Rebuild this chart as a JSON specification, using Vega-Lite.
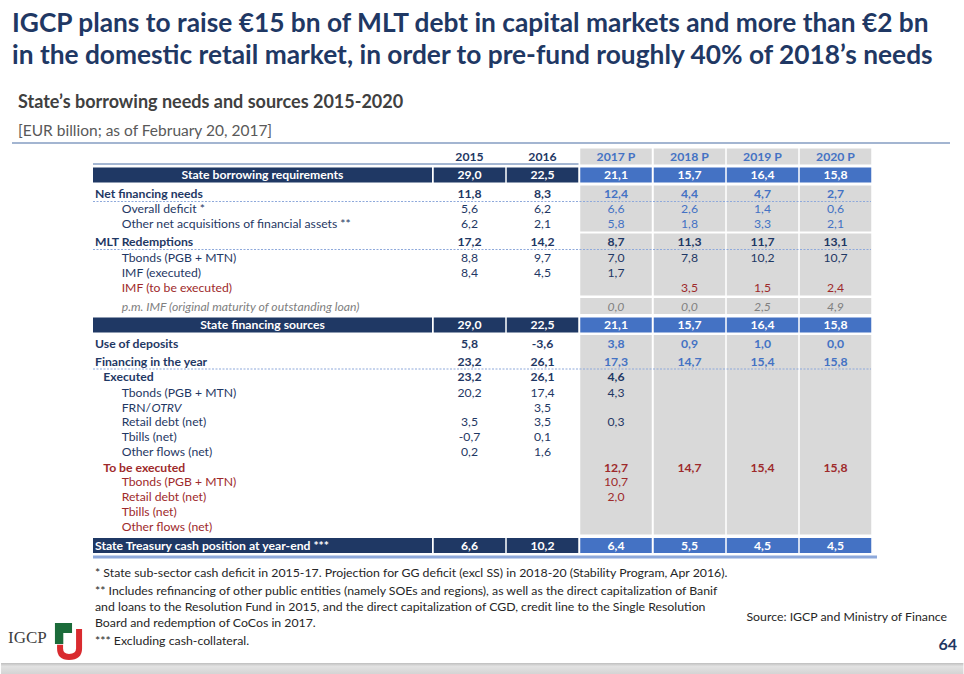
{
  "$schema": "https://vega.github.io/schema/vega-lite/v6.json",
  "width": 964,
  "height": 674,
  "autosize": {"type": "none"},
  "padding": 0,
  "background": "white",
  "config": {
    "view": {"stroke": null},
    "axis": {"disable": true},
    "locale": {"number": {"decimal": ",", "thousands": ".", "grouping": [3], "currency": ["", " €"], "minus": "-"}},
    "text": {"font": "Lato", "fontSize": 12.2, "baseline": "middle"}
  },
  "datasets": {
    "cols": [
      {"year": "2015", "c": 1, "proj": false},
      {"year": "2016", "c": 2, "proj": false},
      {"year": "2017 P", "c": 3, "proj": true},
      {"year": "2018 P", "c": 4, "proj": true},
      {"year": "2019 P", "c": 5, "proj": true},
      {"year": "2020 P", "c": 6, "proj": true}
    ],
    "tbl": [
      {"r": 0, "section": "header", "status": "header", "level": 0, "label": ""},
      {"r": 1, "section": "total", "status": "total", "level": 0, "label": "State borrowing requirements", "2015": 29.0, "2016": 22.5, "2017 P": 21.1, "2018 P": 15.7, "2019 P": 16.4, "2020 P": 15.8},
      {"r": 2, "section": "needs", "status": "estimate", "level": 0, "label": "Net financing needs", "2015": 11.8, "2016": 8.3, "2017 P": 12.4, "2018 P": 4.4, "2019 P": 4.7, "2020 P": 2.7},
      {"r": 3, "section": "needs", "status": "estimate", "level": 2, "label": "Overall deficit *", "2015": 5.6, "2016": 6.2, "2017 P": 6.6, "2018 P": 2.6, "2019 P": 1.4, "2020 P": 0.6},
      {"r": 4, "section": "needs", "status": "estimate", "level": 2, "label": "Other net acquisitions of financial assets **", "2015": 6.2, "2016": 2.1, "2017 P": 5.8, "2018 P": 1.8, "2019 P": 3.3, "2020 P": 2.1},
      {"r": 5, "section": "redemptions", "status": "known", "level": 0, "label": "MLT Redemptions", "2015": 17.2, "2016": 14.2, "2017 P": 8.7, "2018 P": 11.3, "2019 P": 11.7, "2020 P": 13.1},
      {"r": 6, "section": "redemptions", "status": "known", "level": 2, "label": "Tbonds (PGB + MTN)", "2015": 8.8, "2016": 9.7, "2017 P": 7.0, "2018 P": 7.8, "2019 P": 10.2, "2020 P": 10.7},
      {"r": 7, "section": "redemptions", "status": "known", "level": 2, "label": "IMF (executed)", "2015": 8.4, "2016": 4.5, "2017 P": 1.7},
      {"r": 8, "section": "redemptions", "status": "pending", "level": 2, "label": "IMF (to be executed)", "2018 P": 3.5, "2019 P": 1.5, "2020 P": 2.4},
      {"r": 9, "section": "memo", "status": "memo", "level": 2, "label": "p.m. IMF (original maturity of outstanding loan)", "2017 P": 0.0, "2018 P": 0.0, "2019 P": 2.5, "2020 P": 4.9},
      {"r": 10, "section": "total", "status": "total", "level": 0, "label": "State financing sources", "2015": 29.0, "2016": 22.5, "2017 P": 21.1, "2018 P": 15.7, "2019 P": 16.4, "2020 P": 15.8},
      {"r": 11, "section": "sources", "status": "estimate", "level": 0, "label": "Use of deposits", "2015": 5.8, "2016": -3.6, "2017 P": 3.8, "2018 P": 0.9, "2019 P": 1.0, "2020 P": 0.0},
      {"r": 12, "section": "sources", "status": "estimate", "level": 0, "label": "Financing in the year", "2015": 23.2, "2016": 26.1, "2017 P": 17.3, "2018 P": 14.7, "2019 P": 15.4, "2020 P": 15.8},
      {"r": 13, "section": "sources", "status": "known", "level": 1, "label": "Executed", "2015": 23.2, "2016": 26.1, "2017 P": 4.6},
      {"r": 14, "section": "sources", "status": "known", "level": 2, "label": "Tbonds (PGB + MTN)", "2015": 20.2, "2016": 17.4, "2017 P": 4.3},
      {"r": 15, "section": "sources", "status": "known", "level": 2, "label": "FRN/", "labelEm": "OTRV", "2016": 3.5},
      {"r": 16, "section": "sources", "status": "known", "level": 2, "label": "Retail debt (net)", "2015": 3.5, "2016": 3.5, "2017 P": 0.3},
      {"r": 17, "section": "sources", "status": "known", "level": 2, "label": "Tbills (net)", "2015": -0.7, "2016": 0.1},
      {"r": 18, "section": "sources", "status": "known", "level": 2, "label": "Other flows (net)", "2015": 0.2, "2016": 1.6},
      {"r": 19, "section": "sources", "status": "pending", "level": 1, "label": "To be executed", "2017 P": 12.7, "2018 P": 14.7, "2019 P": 15.4, "2020 P": 15.8},
      {"r": 20, "section": "sources", "status": "pending", "level": 2, "label": "Tbonds (PGB + MTN)", "2017 P": 10.7},
      {"r": 21, "section": "sources", "status": "pending", "level": 2, "label": "Retail debt (net)", "2017 P": 2.0},
      {"r": 22, "section": "sources", "status": "pending", "level": 2, "label": "Tbills (net)"},
      {"r": 23, "section": "sources", "status": "pending", "level": 2, "label": "Other flows (net)"},
      {"r": 24, "section": "balance", "status": "total", "level": 0, "label": "State Treasury cash position at year-end ***", "2015": 6.6, "2016": 10.2, "2017 P": 6.4, "2018 P": 5.5, "2019 P": 4.5, "2020 P": 4.5}
    ],
    "notes": [
      {"r": -6, "kind": "title", "text": "IGCP plans to raise €15 bn of MLT debt in capital markets and more than €2 bn"},
      {"r": -5, "kind": "title", "text": "in the domestic retail market, in order to pre-fund roughly 40% of 2018’s needs"},
      {"r": -4, "kind": "subtitle", "text": "State’s borrowing needs and sources 2015-2020"},
      {"r": -3, "kind": "unit", "text": "[EUR billion; as of February 20, 2017]"},
      {"r": 26, "kind": "note", "text": "* State sub-sector cash deficit in 2015-17. Projection for GG deficit (excl SS) in 2018-20 (Stability Program, Apr 2016)."},
      {"r": 27, "kind": "note", "text": "** Includes refinancing of other public entities (namely SOEs and regions), as well as the direct capitalization of Banif"},
      {"r": 28, "kind": "note", "text": "and loans to the Resolution Fund in 2015, and the direct capitalization of CGD, credit line to the Single Resolution"},
      {"r": 29, "kind": "note", "text": "Board and redemption of CoCos in 2017."},
      {"r": 30, "kind": "note", "text": "*** Excluding cash-collateral."},
      {"r": 29, "kind": "source", "text": "Source: IGCP and Ministry of Finance"},
      {"r": 30, "kind": "page", "text": "64"},
      {"r": 30, "kind": "logo", "text": "IGCP"}
    ]
  },
  "encoding": {
    "y": {"field": "r", "type": "quantitative", "axis": null,
      "scale": {"type": "linear", "zero": false, "nice": false,
        "domain": [-7, -6, -5, -4, -3, -2, 0, 1, 2, 3, 4, 5, 6, 7, 8, 9, 10, 11, 12, 13, 14, 15, 16, 17, 18, 19, 20, 21, 22, 23, 24, 25, 26, 27, 28, 29, 30, 31, 32],
        "range": [0, 24, 56, 103, 131, 143, 157, 175, 194, 209, 224, 242, 257.5, 272.5, 288, 306.5, 325, 343.5, 361.5, 377, 392.5, 407.5, 422, 437, 451.5, 467.5, 482, 497, 512, 527, 545.5, 557, 573, 591, 607, 623, 641, 663, 674]}}
  },
  "layer": [
    {
      "data": {"name": "notes"},
      "transform": [{"filter": "datum.kind === 'page'"}],
      "mark": {"type": "bar", "color": {"gradient": "linear", "x1": 0, "y1": 0, "x2": 0, "y2": 1, "stops": [{"offset": 0, "color": "#BEBEBE"}, {"offset": 0.3, "color": "#E2E2E2"}, {"offset": 1, "color": "#D4D4D4"}]}},
      "encoding": {
        "x": {"datum": -1.5, "type": "quantitative", "axis": null, "scale": {"type": "linear", "zero": false, "nice": false, "domain": [-1.5, -1, -0.5, 0, 1, 2, 3, 4, 5, 6, 6.5, 7, 7.5], "range": [0, 12, 95, 262.5, 469.5, 542.5, 616, 689.5, 762.5, 835.5, 871, 957, 964]}},
        "x2": {"datum": 7.5},
        "y": {"datum": 31, "type": "quantitative", "axis": null},
        "y2": {"datum": 32}
      }
    },
    {
      "data": {"name": "notes"},
      "transform": [{"filter": "datum.kind === 'unit'"}],
      "mark": {"type": "rule", "color": "#A3B5D1", "strokeWidth": 2, "x2Offset": -7},
      "encoding": {
        "x": {"datum": -1, "type": "quantitative", "axis": null},
        "x2": {"datum": 7},
        "y": {"datum": -2, "type": "quantitative", "axis": null},
        "y2": {"datum": -2}
      }
    },
    {
      "data": {"name": "tbl"},
      "transform": [
        {"fold": ["2015", "2016", "2017 P", "2018 P", "2019 P", "2020 P"], "as": ["year", "value"]},
        {"lookup": "year", "from": {"data": {"name": "cols"}, "key": "year", "fields": ["c", "proj"]}},
        {"filter": "datum.proj && datum.section !== 'total' && datum.section !== 'balance'"},
        {"aggregate": [{"op": "min", "field": "r", "as": "r"}, {"op": "max", "field": "r", "as": "rmax"}], "groupby": ["section", "c"]}
      ],
      "mark": {"type": "bar", "color": "#D9D9D9", "width": 71.5, "yOffset": -8.5, "y2Offset": 7.5},
      "encoding": {
        "x": {"field": "c", "type": "quantitative", "axis": null, "scale": {"type": "linear", "zero": false, "nice": false, "domain": [-1.5, -1, -0.5, 0, 1, 2, 3, 4, 5, 6, 6.5, 7, 7.5], "range": [0, 12, 95, 262.5, 469.5, 542.5, 616, 689.5, 762.5, 835.5, 871, 957, 964]}},
        "y": {"field": "r", "type": "quantitative", "stack": null, "axis": null},
        "y2": {"field": "rmax"}
      }
    },
    {
      "data": {"name": "tbl"},
      "transform": [
        {"fold": ["2015", "2016", "2017 P", "2018 P", "2019 P", "2020 P"], "as": ["year", "value"]},
        {"lookup": "year", "from": {"data": {"name": "cols"}, "key": "year", "fields": ["c", "proj"]}},
        {"filter": "datum.section === 'total' || datum.section === 'balance'"}
      ],
      "mark": {"type": "bar", "width": 71.5, "yOffset": -7.5, "y2Offset": 7.5},
      "encoding": {
        "x": {"field": "c", "type": "quantitative", "axis": null},
        "y": {"field": "r", "type": "quantitative", "stack": null, "axis": null},
        "y2": {"field": "r"},
        "color": {"condition": {"test": "datum.proj", "value": "#4472C4"}, "value": "#1F3864"}
      }
    },
    {
      "data": {"name": "tbl"},
      "transform": [{"filter": "datum.section === 'total' || datum.section === 'balance'"}],
      "mark": {"type": "bar", "width": 339, "yOffset": -7.5, "y2Offset": 7.5, "color": "#1F3864"},
      "encoding": {
        "x": {"datum": 0, "type": "quantitative", "axis": null},
        "y": {"field": "r", "type": "quantitative", "stack": null, "axis": null},
        "y2": {"field": "r"}
      }
    },
    {
      "data": {"name": "tbl"},
      "transform": [{"filter": "datum.section === 'header'"}],
      "mark": {"type": "rule", "color": "#4A6FA5", "strokeWidth": 1, "xOffset": -2, "x2Offset": 36, "yOffset": 7, "y2Offset": 7},
      "encoding": {
        "x": {"datum": -0.5, "type": "quantitative", "axis": null},
        "x2": {"datum": 2},
        "y2": {"field": "r"}
      }
    },
    {
      "data": {"name": "tbl"},
      "transform": [
        {"window": [{"op": "lead", "field": "level", "as": "nextLevel"}], "sort": [{"field": "r"}]},
        {"filter": "datum.level === 0 && datum.nextLevel > 0 && datum.section !== 'header'"}
      ],
      "mark": {"type": "rule", "color": "#8EA9DB", "strokeWidth": 1, "strokeDash": [2, 1.5], "xOffset": -2, "yOffset": 7.5, "y2Offset": 7.5},
      "encoding": {
        "x": {"datum": -0.5, "type": "quantitative", "axis": null},
        "x2": {"datum": 6.5},
        "y2": {"field": "r"}
      }
    },
    {
      "data": {"name": "tbl"},
      "transform": [{"filter": "datum.section === 'balance'"}],
      "mark": {"type": "rule", "color": "#8EA9DB", "strokeWidth": 3, "xOffset": -2, "x2Offset": 6},
      "encoding": {
        "x": {"datum": -0.5, "type": "quantitative", "axis": null},
        "x2": {"datum": 6.5},
        "y": {"datum": 25, "type": "quantitative", "axis": null},
        "y2": {"datum": 25}
      }
    },
    {
      "data": {"name": "tbl"},
      "transform": [
        {"fold": ["2015", "2016", "2017 P", "2018 P", "2019 P", "2020 P"], "as": ["year", "value"]},
        {"lookup": "year", "from": {"data": {"name": "cols"}, "key": "year", "fields": ["c", "proj"]}},
        {"filter": "datum.section === 'header'"}
      ],
      "mark": {"type": "text", "fontWeight": "bold", "align": "center"},
      "encoding": {
        "x": {"field": "c", "type": "quantitative", "axis": null},
        "text": {"field": "year"},
        "color": {"condition": {"test": "datum.proj", "value": "#4472C4"}, "value": "#1F3864"}
      }
    },
    {
      "data": {"name": "tbl"},
      "transform": [
        {"fold": ["2015", "2016", "2017 P", "2018 P", "2019 P", "2020 P"], "as": ["year", "value"]},
        {"lookup": "year", "from": {"data": {"name": "cols"}, "key": "year", "fields": ["c", "proj"]}},
        {"filter": "isValid(datum.value) && (datum.section === 'total' || datum.section === 'balance')"}
      ],
      "mark": {"type": "text", "fontWeight": "bold", "align": "center", "color": "white"},
      "encoding": {
        "x": {"field": "c", "type": "quantitative", "axis": null},
        "text": {"field": "value", "type": "quantitative", "format": ".1f"}
      }
    },
    {
      "data": {"name": "tbl"},
      "transform": [
        {"fold": ["2015", "2016", "2017 P", "2018 P", "2019 P", "2020 P"], "as": ["year", "value"]},
        {"lookup": "year", "from": {"data": {"name": "cols"}, "key": "year", "fields": ["c", "proj"]}},
        {"filter": "isValid(datum.value) && datum.level <= 1 && datum.section !== 'total' && datum.section !== 'balance' && datum.section !== 'header'"}
      ],
      "mark": {"type": "text", "fontWeight": "bold", "align": "center"},
      "encoding": {
        "x": {"field": "c", "type": "quantitative", "axis": null},
        "text": {"field": "value", "type": "quantitative", "format": ".1f"},
        "color": {"condition": [{"test": "!datum.proj", "value": "#1F3864"}, {"test": "datum.status === 'estimate'", "value": "#4472C4"}, {"test": "datum.status === 'pending'", "value": "#9E2A2B"}], "value": "#1F3864"}
      }
    },
    {
      "data": {"name": "tbl"},
      "transform": [
        {"fold": ["2015", "2016", "2017 P", "2018 P", "2019 P", "2020 P"], "as": ["year", "value"]},
        {"lookup": "year", "from": {"data": {"name": "cols"}, "key": "year", "fields": ["c", "proj"]}},
        {"filter": "isValid(datum.value) && datum.level === 2 && datum.status !== 'memo'"}
      ],
      "mark": {"type": "text", "align": "center"},
      "encoding": {
        "x": {"field": "c", "type": "quantitative", "axis": null},
        "text": {"field": "value", "type": "quantitative", "format": ".1f"},
        "color": {"condition": [{"test": "!datum.proj", "value": "#1F3864"}, {"test": "datum.status === 'estimate'", "value": "#4472C4"}, {"test": "datum.status === 'pending'", "value": "#9E2A2B"}], "value": "#1F3864"}
      }
    },
    {
      "data": {"name": "tbl"},
      "transform": [
        {"fold": ["2015", "2016", "2017 P", "2018 P", "2019 P", "2020 P"], "as": ["year", "value"]},
        {"lookup": "year", "from": {"data": {"name": "cols"}, "key": "year", "fields": ["c", "proj"]}},
        {"filter": "isValid(datum.value) && datum.status === 'memo'"}
      ],
      "mark": {"type": "text", "align": "center", "fontStyle": "italic", "color": "#808080"},
      "encoding": {
        "x": {"field": "c", "type": "quantitative", "axis": null},
        "text": {"field": "value", "type": "quantitative", "format": ".1f"}
      }
    },
    {
      "data": {"name": "tbl"},
      "transform": [{"filter": "datum.level === 0 && (datum.section === 'needs' || datum.section === 'redemptions' || datum.section === 'sources')"}],
      "mark": {"type": "text", "align": "left", "fontWeight": "bold", "color": "#1F3864"},
      "encoding": {"x": {"datum": -0.5, "type": "quantitative", "axis": null}, "text": {"field": "label"}}
    },
    {
      "data": {"name": "tbl"},
      "transform": [{"filter": "datum.level === 1"}],
      "mark": {"type": "text", "align": "left", "fontWeight": "bold", "dx": 8.3},
      "encoding": {
        "x": {"datum": -0.5, "type": "quantitative", "axis": null},
        "text": {"field": "label"},
        "color": {"condition": {"test": "datum.status === 'pending'", "value": "#9E2A2B"}, "value": "#1F3864"}
      }
    },
    {
      "data": {"name": "tbl"},
      "transform": [{"filter": "datum.level === 2 && datum.status !== 'memo'"}],
      "mark": {"type": "text", "align": "left", "dx": 26.7},
      "encoding": {
        "x": {"datum": -0.5, "type": "quantitative", "axis": null},
        "text": {"field": "label"},
        "color": {"condition": {"test": "datum.status === 'pending'", "value": "#9E2A2B"}, "value": "#1F3864"}
      }
    },
    {
      "data": {"name": "tbl"},
      "transform": [{"filter": "isValid(datum.labelEm)"}],
      "mark": {"type": "text", "align": "left", "dx": 56.5, "fontStyle": "italic", "color": "#1F3864"},
      "encoding": {"x": {"datum": -0.5, "type": "quantitative", "axis": null}, "text": {"field": "labelEm"}}
    },
    {
      "data": {"name": "tbl"},
      "transform": [{"filter": "datum.status === 'memo'"}],
      "mark": {"type": "text", "align": "left", "dx": 26.7, "fontStyle": "italic", "color": "#808080"},
      "encoding": {"x": {"datum": -0.5, "type": "quantitative", "axis": null}, "text": {"field": "label"}}
    },
    {
      "data": {"name": "tbl"},
      "transform": [{"filter": "datum.section === 'total'"}],
      "mark": {"type": "text", "align": "center", "fontWeight": "bold", "color": "white"},
      "encoding": {"x": {"datum": 0, "type": "quantitative", "axis": null}, "text": {"field": "label"}}
    },
    {
      "data": {"name": "tbl"},
      "transform": [{"filter": "datum.section === 'balance'"}],
      "mark": {"type": "text", "align": "left", "fontWeight": "bold", "color": "white"},
      "encoding": {"x": {"datum": -0.5, "type": "quantitative", "axis": null}, "text": {"field": "label"}}
    },
    {
      "data": {"name": "notes"},
      "transform": [{"filter": "datum.kind === 'title'"}],
      "mark": {"type": "text", "align": "left", "fontWeight": "bold", "fontSize": 26.3, "color": "#1F3864"},
      "encoding": {"x": {"datum": -1, "type": "quantitative", "axis": null}, "text": {"field": "text"}}
    },
    {
      "data": {"name": "notes"},
      "transform": [{"filter": "datum.kind === 'subtitle'"}],
      "mark": {"type": "text", "align": "left", "fontWeight": "bold", "fontSize": 18, "color": "#404040", "dx": 6},
      "encoding": {"x": {"datum": -1, "type": "quantitative", "axis": null}, "text": {"field": "text"}}
    },
    {
      "data": {"name": "notes"},
      "transform": [{"filter": "datum.kind === 'unit'"}],
      "mark": {"type": "text", "align": "left", "fontSize": 15.5, "color": "#595959", "dx": 6},
      "encoding": {"x": {"datum": -1, "type": "quantitative", "axis": null}, "text": {"field": "text"}}
    },
    {
      "data": {"name": "notes"},
      "transform": [{"filter": "datum.kind === 'note'"}],
      "mark": {"type": "text", "align": "left", "fontSize": 12.3, "color": "#262626"},
      "encoding": {"x": {"datum": -0.5, "type": "quantitative", "axis": null}, "text": {"field": "text"}}
    },
    {
      "data": {"name": "notes"},
      "transform": [{"filter": "datum.kind === 'source'"}],
      "mark": {"type": "text", "align": "right", "fontSize": 12.3, "color": "#262626", "dx": -10, "dy": -6},
      "encoding": {"x": {"datum": 7, "type": "quantitative", "axis": null}, "text": {"field": "text"}}
    },
    {
      "data": {"name": "notes"},
      "transform": [{"filter": "datum.kind === 'page'"}],
      "mark": {"type": "text", "align": "right", "fontSize": 16, "fontWeight": "bold", "color": "#1F3864", "dy": 4},
      "encoding": {"x": {"datum": 7, "type": "quantitative", "axis": null}, "text": {"field": "text"}}
    },
    {
      "data": {"name": "notes"},
      "transform": [{"filter": "datum.kind === 'logo'"}],
      "mark": {"type": "text", "align": "left", "font": "Liberation Serif", "fontSize": 17, "color": "#404040", "dx": -4, "dy": -3},
      "encoding": {"x": {"datum": -1, "type": "quantitative", "axis": null}, "text": {"field": "text"}}
    },
    {
      "data": {"name": "notes"},
      "transform": [{"filter": "datum.kind === 'logo'"}],
      "mark": {"type": "point", "shape": "M-0.74,-0.95 L0.16,-0.95 L0.16,-0.42 L-0.3,-0.42 L-0.3,0.16 L-0.74,0.16 Z", "size": 1444, "filled": true, "opacity": 1, "color": "#1B6B3A", "xOffset": 57},
      "encoding": {"x": {"datum": -1, "type": "quantitative", "axis": null}}
    },
    {
      "data": {"name": "notes"},
      "transform": [{"filter": "datum.kind === 'logo'"}],
      "mark": {"type": "point", "shape": "M0.53,-0.63 L0.53,0.4 Q0.53,0.84 0,0.84 Q-0.47,0.84 -0.47,0.4 L-0.47,0.2", "size": 1444, "filled": false, "opacity": 1, "stroke": "#D92B2F", "strokeWidth": 6, "xOffset": 57},
      "encoding": {"x": {"datum": -1, "type": "quantitative", "axis": null}}
    }
  ]
}
